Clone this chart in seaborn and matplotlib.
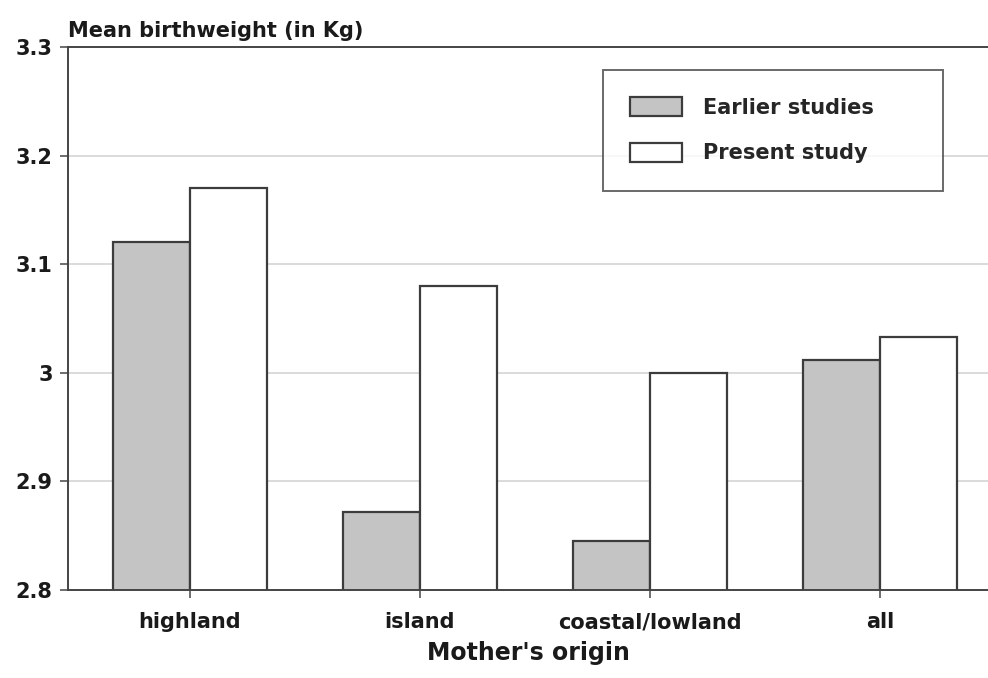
import pandas as pd
import seaborn as sns
import matplotlib.pyplot as plt

origins = ['highland', 'island', 'coastal/lowland', 'all']
earlier = [3.12, 2.872, 2.845, 3.012]
present = [3.17, 3.08, 3.0, 3.033]
studies = ['Earlier studies', 'Present study']
yticks = [2.8, 2.9, 3.0, 3.1, 3.2, 3.3]
ytick_labels = ['2.8', '2.9', '3', '3.1', '3.2', '3.3']

df = pd.DataFrame({
    'origin': origins * 2,
    'weight': earlier + present,
    'study': [studies[0]] * len(origins) + [studies[1]] * len(origins),
})

sns.set_style('white')
plt.rcParams['font.family'] = ['DejaVu Sans']

fig = plt.figure(figsize=(9.88, 6.78), dpi=100)
ax = fig.add_axes([0.0688, 0.1298, 0.9312, 0.8009])

# grid lines behind bars
for y in yticks[1:-1]:
    ax.axhline(y, color='#d4d4d4', lw=1.2, zorder=0)

sns.barplot(data=df, x='origin', y='weight', hue='study',
            palette=['#c4c4c4', 'white'], edgecolor='#3c3c3c',
            linewidth=1.6, width=0.67, ax=ax, zorder=2)

ax.set_ylim(2.8, 3.3)
ax.set_xlim(-0.53, 3.47)
ax.set_yticks(yticks)
ax.set_yticklabels(ytick_labels)
ax.tick_params(axis='both', which='both', bottom=True, left=True,
               length=6, width=1.2, color='#555555',
               direction='out', labelsize=15)
ax.tick_params(axis='y', length=6, pad=5)
ax.tick_params(axis='x', pad=10)
for lab in ax.get_xticklabels() + ax.get_yticklabels():
    lab.set_fontweight('bold')
    lab.set_color('#1a1a1a')

for side in ['left', 'bottom', 'top']:
    ax.spines[side].set_color('#444444')
    ax.spines[side].set_linewidth(1.4)
ax.spines['right'].set_visible(False)

ax.set_ylabel('')
ax.set_xlabel("Mother's origin", fontsize=17, fontweight='bold',
              labelpad=6, color='#1a1a1a')
fig.text(0.0688, 0.955, 'Mean birthweight (in Kg)', fontsize=15,
         fontweight='bold', color='#1a1a1a', ha='left', va='center')

leg = ax.legend(loc='upper left', bbox_to_anchor=(0.610, 0.897, 0.344, 0.0),
                bbox_transform=fig.transFigure, mode='expand',
                fontsize=15, frameon=True, fancybox=False, edgecolor='#444444',
                handlelength=2.5, handleheight=1.05, handletextpad=1.0,
                labelspacing=1.2, borderpad=1.3, borderaxespad=0)
leg.get_frame().set_linewidth(1.4)
for t in leg.get_texts():
    t.set_fontweight('bold')

plt.savefig('out.png', dpi=100)
plt.close()
